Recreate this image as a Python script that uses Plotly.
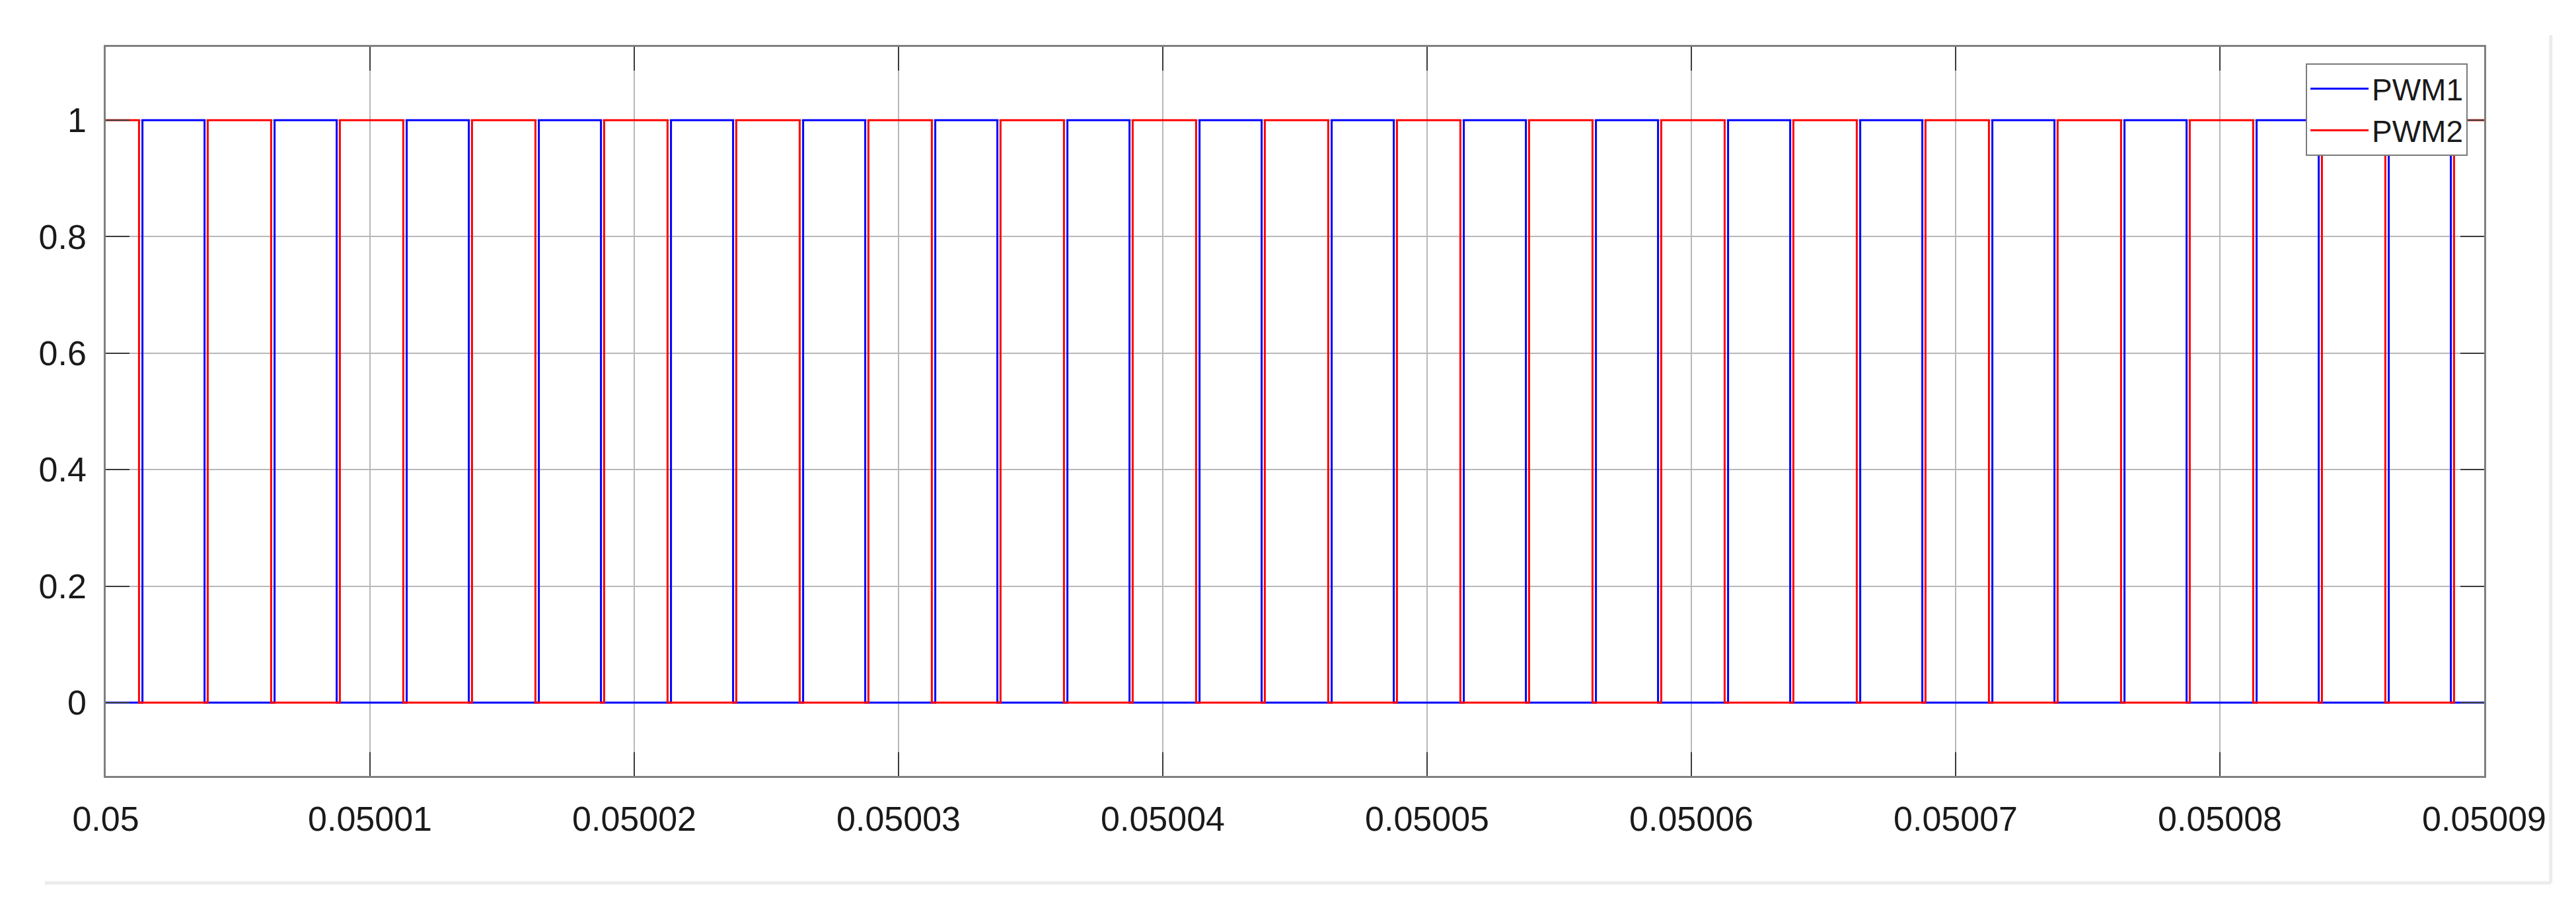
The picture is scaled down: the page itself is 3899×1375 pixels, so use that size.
import plotly.graph_objects as go

# ---- data (times in microseconds after t0 = 0.05 s) ----
t0 = 0.05
t_end_us = 90.0

pwm1_rise_us = [1.39, 6.39, 11.39, 16.39, 21.39, 26.39, 31.39, 36.39, 41.39,
                46.39, 51.39, 56.39, 61.39, 66.39, 71.39, 76.39, 81.39, 86.39]
pwm1_fall_us = [3.74, 8.74, 13.74, 18.74, 23.74, 28.74, 33.74, 38.74, 43.74,
                48.74, 53.74, 58.74, 63.74, 68.74, 73.74, 78.74, 83.74, 88.74]
pwm2_fall_us = [1.26, 6.26, 11.26, 16.26, 21.26, 26.26, 31.26, 36.26, 41.26,
                46.26, 51.26, 56.26, 61.26, 66.26, 71.26, 76.26, 81.26, 86.26]
pwm2_rise_us = [3.86, 8.86, 13.86, 18.86, 23.86, 28.86, 33.86, 38.86, 43.86,
                48.86, 53.86, 58.86, 63.86, 68.86, 73.86, 78.86, 83.86, 88.86]
pwm1_initial = 0
pwm2_initial = 1

x_tick_vals = [0.05, 0.05001, 0.05002, 0.05003, 0.05004, 0.05005, 0.05006,
               0.05007, 0.05008, 0.05009]
x_tick_text = ["0.05", "0.05001", "0.05002", "0.05003", "0.05004", "0.05005",
               "0.05006", "0.05007", "0.05008", "0.05009"]
y_tick_vals = [0, 0.2, 0.4, 0.6, 0.8, 1]
y_tick_text = ["0", "0.2", "0.4", "0.6", "0.8", "1"]


def step_series(initial, rises, falls):
    events = sorted([(t, 1) for t in rises] + [(t, 0) for t in falls])
    xs = [t0]
    ys = [initial]
    for t, v in events:
        xs.append(t0 + t * 1e-6)
        ys.append(v)
    xs.append(t0 + t_end_us * 1e-6)
    ys.append(ys[-1])
    return xs, ys


x1, y1 = step_series(pwm1_initial, pwm1_rise_us, pwm1_fall_us)
x2, y2 = step_series(pwm2_initial, pwm2_rise_us, pwm2_fall_us)

FONT = "Liberation Sans, Arial, sans-serif"

fig = go.Figure()
fig.add_trace(go.Scatter(x=x1, y=y1, mode="lines", name="PWM1",
                         line=dict(color="#0000ff", width=3, shape="hv")))
fig.add_trace(go.Scatter(x=x2, y=y2, mode="lines", name="PWM2",
                         line=dict(color="#ff0000", width=3, shape="hv")))

axis_common = dict(
    showgrid=True, gridcolor="#b8b8b8", gridwidth=1.5,
    showline=True, linecolor="#808080", linewidth=2.5, mirror="ticks",
    ticks="inside", ticklen=36, tickwidth=2, tickcolor="#3a3a3a",
    zeroline=False,
    tickfont=dict(family=FONT, size=52, color="#1a1a1a"),
)

fig.update_layout(
    width=3899, height=1375,
    margin=dict(l=160, r=139, t=71, b=200),
    paper_bgcolor="white", plot_bgcolor="white",
    xaxis=dict(range=[0.05, 0.05009], tickmode="array",
               tickvals=x_tick_vals, ticktext=x_tick_text,
               ticklabelstandoff=18, **axis_common),
    yaxis=dict(range=[-0.126, 1.126], tickmode="array",
               tickvals=y_tick_vals, ticktext=y_tick_text,
               ticklabelstandoff=16, **axis_common),
    legend=dict(x=0.99306, y=0.9774, xanchor="right", yanchor="top",
                bgcolor="white", bordercolor="#7a7a7a", borderwidth=2,
                font=dict(family=FONT, size=46, color="#1a1a1a"),
                itemwidth=88, tracegroupgap=0),
    showlegend=True,
    shapes=[
        dict(type="line", xref="paper", yref="paper",
             x0=1.028, x1=1.028, y0=1.0163, y1=-0.1467,
             line=dict(color="#ececec", width=5)),
        dict(type="line", xref="paper", yref="paper",
             x0=-0.0256, x1=1.028, y0=-0.1467, y1=-0.1467,
             line=dict(color="#ececec", width=5)),
    ],
)

fig.write_html("out.html",
               config={"displayModeBar": False},
               post_script="document.body.style.margin='0';document.body.style.overflow='hidden';")
